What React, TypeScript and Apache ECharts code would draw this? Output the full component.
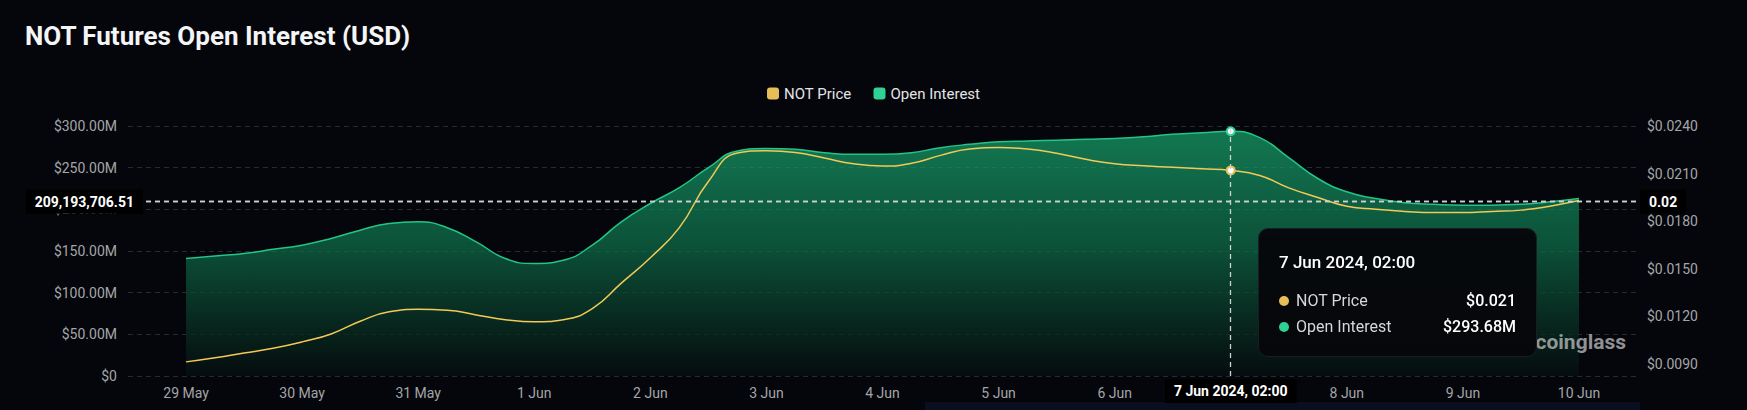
import React, { useEffect, useRef } from 'react';
import * as echarts from 'echarts';

const TITLE = 'NOT Futures Open Interest (USD)';
const WATERMARK = 'coinglass';
const SERIES_PRICE = 'NOT Price';
const SERIES_OI = 'Open Interest';

const dayLabels = ['29 May', '30 May', '31 May', '1 Jun', '2 Jun', '3 Jun', '4 Jun', '5 Jun', '6 Jun', '7 Jun', '8 Jun', '9 Jun'];
const lastDay = '10 Jun';
const hourLabels = ['02:00', '08:00', '14:00', '20:00'];
const padBefore = ['28 May 2024, 14:00', '28 May 2024, 20:00'];
const padAfter = ['10 Jun 2024, 08:00', '10 Jun 2024, 14:00'];

// Open interest, millions of USD, every 6 hours from 29 May 02:00 to 10 Jun 02:00
const openInterestM = [
  141, 144, 147, 152, 157, 165, 175, 183,
  185, 178, 161, 141, 135, 139, 157, 185,
  207, 226, 250, 270, 273, 272, 268, 266,
  266, 268, 274, 278, 281, 282, 283, 284,
  285, 287, 290, 292, 293.68, 286, 262, 237,
  221, 213, 208, 206, 205, 205, 206, 209,
  213,
];

// NOT price, USD, same timestamps
const notPrice = [
  0.00914, 0.0094, 0.0097, 0.01, 0.0104, 0.0109, 0.0117, 0.0123,
  0.01245, 0.0124, 0.0121, 0.0118, 0.01166, 0.0118, 0.0125, 0.0141,
  0.0157, 0.0176, 0.0205, 0.0223, 0.02244, 0.02233, 0.02198, 0.02162,
  0.02148, 0.02165, 0.02215, 0.02255, 0.02264, 0.02255, 0.02228, 0.0219,
  0.02162, 0.02149, 0.0214, 0.0213, 0.0212, 0.02088, 0.0201, 0.0195,
  0.01895, 0.01875, 0.01862, 0.01855, 0.01855, 0.01862, 0.0187, 0.01895,
  0.0193,
];

const POINTER_CATEGORY = '7 Jun 2024, 02:00';
const POINTER_VALUE = 209193706.51;

const OI_MIN = 0;
const OI_MAX = 300000000;
const OI_INTERVAL = 50000000;
const PRICE_MIN = 0.00825;
const PRICE_MAX = 0.024;

const categories: string[] = [...padBefore];
dayLabels.forEach((d) => hourLabels.forEach((h) => categories.push(`${d} 2024, ${h}`)));
categories.push(`${lastDay} 2024, ${hourLabels[0]}`);
categories.push(...padAfter);

const padNulls = (arr: (number | null)[]) => [
  ...padBefore.map(() => null),
  ...arr,
  ...padAfter.map(() => null),
];

const COLORS = {
  bg: '#05060b',
  price: '#dcb84e',
  priceDot: '#e7bd57',
  oi: '#1fb37b',
  oiDot: '#2fd195',
  axisText: '#a4a5a8',
  grid: '#272a31',
};

export default function App() {
  const ref = useRef<HTMLDivElement>(null);

  useEffect(() => {
    if (!ref.current) return;
    const chart = echarts.init(ref.current, null, { renderer: 'svg' });

    const option: any = {
      animation: false,
      backgroundColor: COLORS.bg,
      textStyle: { fontFamily: 'Roboto' },
      title: {
        text: TITLE,
        left: 25,
        top: 23,
        padding: 0,
        textStyle: { fontSize: 26, fontWeight: 'bold', color: '#f4f5f7', fontFamily: 'Roboto' },
      },
      legend: {
        top: 81,
        left: 'center',
        icon: 'roundRect',
        itemWidth: 12,
        itemHeight: 12,
        itemGap: 22,
        data: [SERIES_PRICE, SERIES_OI],
        itemStyle: { borderWidth: 0 },
        textStyle: { color: '#e4e4e6', fontSize: 15 },
      },
      grid: { left: 128, right: 110, top: 126, bottom: 34 },
      graphic: [
        {
          type: 'rect',
          left: 925,
          top: 402,
          z: 0,
          shape: { width: 715, height: 8 },
          style: { fill: '#0a0f1f' },
        },
        {
          type: 'text',
          right: 121,
          top: 331,
          z: 10,
          style: {
            text: WATERMARK,
            fill: 'rgba(200,200,204,0.72)',
            font: 'bold 21px Roboto',
          },
        },
      ],
      tooltip: {
        trigger: 'axis',
        alwaysShowContent: true,
        transitionDuration: 0,
        position: (point: number[]) => [point[0] + 27, 228],
        backgroundColor: 'rgba(6,7,10,0.97)',
        borderColor: '#1b1d23',
        borderWidth: 1,
        padding: [21, 20, 17, 20],
        extraCssText:
          'width:279px;height:129px;box-sizing:border-box;border-radius:10px;box-shadow:none;',
        formatter: (params: any[]) => {
          const title = params[0]?.axisValue ?? '';
          const rows = params
            .map((p) => {
              const isPrice = p.seriesName === SERIES_PRICE;
              const v = Number(p.value);
              const txt = isPrice ? '$' + v.toFixed(3) : '$' + (v / 1e6).toFixed(2) + 'M';
              const dot = isPrice ? COLORS.priceDot : COLORS.oiDot;
              return `<div style="display:flex;align-items:center;justify-content:space-between;height:26px;line-height:26px;">
                <span style="display:flex;align-items:center;color:#d6d7da;font-size:16px;">
                  <span style="display:inline-block;width:10px;height:10px;border-radius:50%;background:${dot};margin-right:7px;"></span>${p.seriesName}
                </span>
                <span style="color:#ffffff;font-size:16px;font-weight:500;">${txt}</span>
              </div>`;
            })
            .join('');
          return `<div style="font-family:Roboto;">
            <div style="color:#ffffff;font-size:17px;font-weight:500;line-height:24px;height:24px;margin-bottom:14px;">${title}</div>
            ${rows}
          </div>`;
        },
        axisPointer: {
          type: 'cross',
          crossStyle: { color: '#cfd0d3', type: [5, 4], width: 1.3 },
          lineStyle: { color: '#cfd0d3', type: [5, 4], width: 1.3 },
          label: {
            backgroundColor: '#000000',
            color: '#ffffff',
            fontWeight: 'bold',
            fontSize: 14,
            padding: [5, 9],
            borderRadius: 0,
          },
        },
      },
      xAxis: {
        type: 'category',
        boundaryGap: false,
        data: categories,
        axisLine: { show: false },
        axisTick: { show: false },
        splitLine: { show: false },
        axisLabel: {
          color: COLORS.axisText,
          fontSize: 14,
          margin: 10,
          interval: (index: number) => (index - padBefore.length) % hourLabels.length === 0,
          formatter: (v: string) => v.split(' 2024')[0],
        },
      },
      yAxis: [
        {
          type: 'value',
          position: 'left',
          min: OI_MIN,
          max: OI_MAX,
          interval: OI_INTERVAL,
          axisLine: { show: false },
          axisTick: { show: false },
          splitLine: { show: true, lineStyle: { color: COLORS.grid, type: [5, 4], width: 1 } },
          axisLabel: {
            color: COLORS.axisText,
            fontSize: 14,
            margin: 11,
            formatter: (v: number) => (v === 0 ? '$0' : '$' + (v / 1e6).toFixed(2) + 'M'),
          },
          axisPointer: {
            label: {
              margin: -15,
              formatter: (p: any) =>
                Number(p.value).toLocaleString('en-US', {
                  minimumFractionDigits: 2,
                  maximumFractionDigits: 2,
                }),
            },
          },
        },
        {
          type: 'value',
          position: 'right',
          min: PRICE_MIN,
          max: PRICE_MAX,
          splitNumber: 5,
          axisLine: { show: false },
          axisTick: { show: false },
          splitLine: { show: false },
          axisLabel: {
            color: COLORS.axisText,
            fontSize: 14,
            margin: 10,
            showMinLabel: false,
            formatter: (v: number) => '$' + v.toFixed(4),
          },
          axisPointer: {
            label: {
              formatter: (p: any) => Number(p.value).toFixed(2),
            },
          },
        },
      ],
      series: [
        {
          name: SERIES_PRICE,
          type: 'line',
          yAxisIndex: 1,
          smooth: true,
          showSymbol: false,
          symbol: 'emptyCircle',
          symbolSize: 8,
          z: 4,
          data: padNulls(notPrice),
          itemStyle: { color: COLORS.priceDot, borderWidth: 3 },
          lineStyle: { color: COLORS.price, width: 1.5 },
          emphasis: { scale: false, lineStyle: { width: 1.5 } },
        },
        {
          name: SERIES_OI,
          type: 'line',
          yAxisIndex: 0,
          smooth: true,
          showSymbol: false,
          symbol: 'emptyCircle',
          symbolSize: 8,
          z: 2,
          data: padNulls(openInterestM.map((v) => v * 1e6)),
          itemStyle: { color: COLORS.oiDot, borderWidth: 3 },
          lineStyle: { color: COLORS.oi, width: 1.5 },
          areaStyle: {
            color: new echarts.graphic.LinearGradient(0, 0, 0, 1, [
              { offset: 0, color: 'rgba(22,152,101,1)' },
              { offset: 0.45, color: 'rgba(14,106,71,1)' },
              { offset: 0.8, color: 'rgba(8,46,33,1)' },
              { offset: 1, color: 'rgba(5,14,14,1)' },
            ]),
          },
          emphasis: { scale: false, lineStyle: { width: 1.5 } },
        },
      ],
    };

    chart.setOption(option);

    const px = chart.convertToPixel({ xAxisIndex: 0 }, POINTER_CATEGORY) as number;
    const py = chart.convertToPixel({ yAxisIndex: 0 }, POINTER_VALUE) as number;
    chart.dispatchAction({ type: 'showTip', x: px, y: py });

    return () => chart.dispose();
  }, []);

  return (
    <div
      ref={ref}
      style={{ position: 'absolute', left: 0, top: 0, width: 1747, height: 410 }}
    />
  );
}
